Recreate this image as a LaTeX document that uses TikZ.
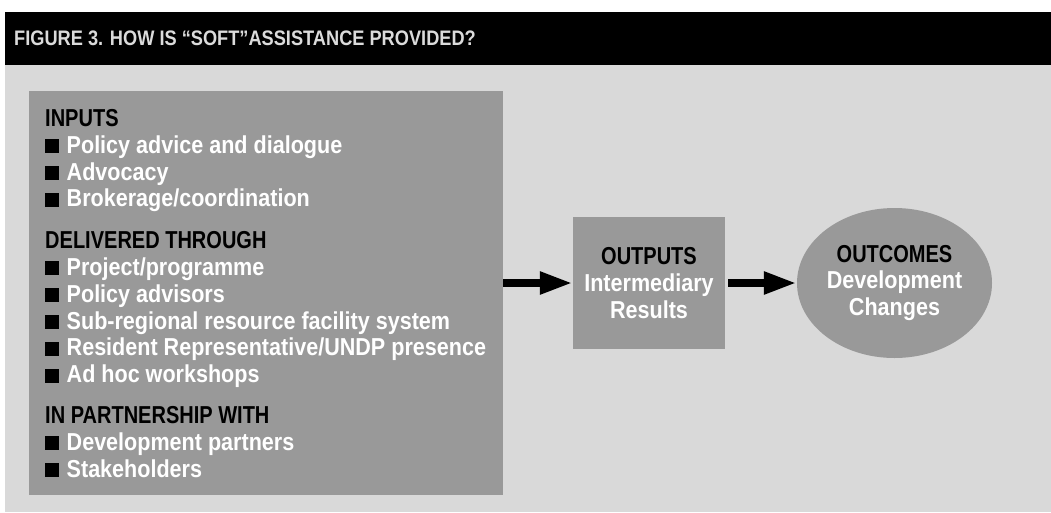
\documentclass[tikz,border=0pt]{standalone}
\usepackage{fontspec}
\setmainfont{Liberation Sans}
\newfontfamily\itemfont[FakeStretch=0.88]{Liberation Sans}
\newfontfamily\headfont[FakeStretch=0.817]{Liberation Sans}
\newfontfamily\titlefont[FakeStretch=0.867]{Liberation Sans}
\usetikzlibrary{arrows.meta,shapes.geometric}

\definecolor{bgLight}{gray}{0.85}
\definecolor{boxDark}{gray}{0.6}
\definecolor{titleGrey}{gray}{0.86}

\newcommand{\bsq}{{\color{black}\rule{14pt}{14pt}}\hspace{7.5pt}}
\newcommand{\hd}[1]{{\headfont\color{black}#1}}

\begin{document}
\begin{tikzpicture}[x=1pt,y=-1pt,
  txt/.style={font=\itemfont\bfseries\fontsize{24.5}{26.8}\selectfont, text=white},
  darkbox/.style={fill=boxDark, draw=none, txt, align=center},
  flowarrow/.style={line width=8pt, -{Triangle[length=33pt,width=21pt]}}]

  % 背景与标题栏
  \useasboundingbox (0,0) rectangle (1051,512);
  \fill[black] (5,12) rectangle (1051,65);
  \fill[bgLight] (5,65) rectangle (1051,512);
  \node[anchor=base west, inner sep=0, text=titleGrey,
        font=\titlefont\bfseries\fontsize{21}{23}\selectfont] (title) at (14,45)
    {FIGURE 3. HOW IS “SOFT”ASSISTANCE PROVIDED?};

  % 左侧输入框
  \node[darkbox, anchor=north west, minimum width=474pt, minimum height=404pt] (inputs) at (29,91) {};
  \node[txt, anchor=base west, align=left, inner sep=0] (inputlist) at (45,477)
    {\hd{INPUTS}\\
     \bsq Policy advice and dialogue\\
     \bsq Advocacy\\
     \bsq Brokerage/coordination\\[15pt]
     \hd{DELIVERED THROUGH}\\
     \bsq Project/programme\\
     \bsq Policy advisors\\
     \bsq Sub-regional resource facility system\\
     \bsq Resident Representative/UNDP presence\\
     \bsq Ad hoc workshops\\[14pt]
     \hd{IN PARTNERSHIP WITH}\\
     \bsq Development partners\\
     \bsq Stakeholders};

  % 输出与成果
  \node[darkbox, minimum width=152pt, minimum height=132pt] (outputs) at (649,283)
    {\hd{OUTPUTS}\\Intermediary\\Results};
  \node[darkbox, ellipse, inner sep=0, minimum width=195pt, minimum height=150pt] (outcomes) at (894.5,283)
    {\hd{OUTCOMES}\\Development\\Changes};

  % 箭头
  \draw[flowarrow] (inputs.east |- outputs.west) -- (outputs.west);
  \draw[flowarrow, shorten <=3pt] (outputs.east) -- (outcomes.west);

\end{tikzpicture}
\end{document}
